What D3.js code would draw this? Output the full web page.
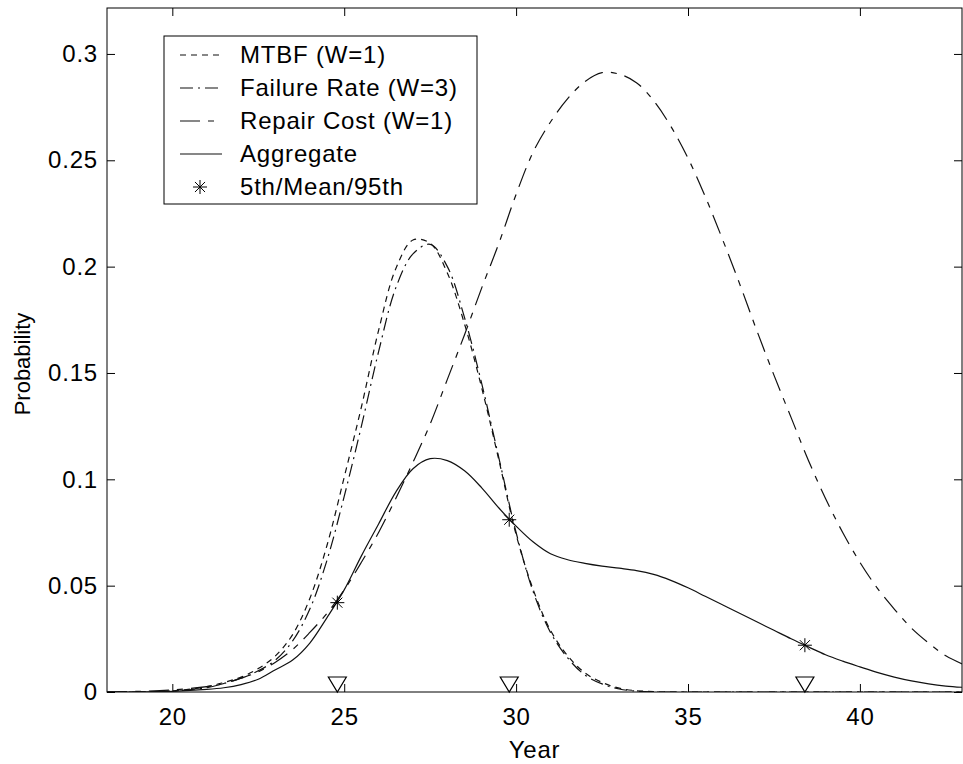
<!DOCTYPE html>
<html>
<head>
<meta charset="utf-8">
<script src="https://cdn.jsdelivr.net/npm/d3@7"></script>
<style>
  body { margin: 0; background: #fff; }
  svg { display: block; font-family: "Liberation Sans", Arial, sans-serif; }
  .axis text { font-size: 24px; fill: #000; letter-spacing: 0.8px; }
  .axis line, .axis path { stroke: #000; stroke-width: 1; }
  .curve { fill: none; stroke: #111; stroke-width: 1.2; }
</style>
</head>
<body>
<script>
// data
var years = [18.1, 19, 20, 21, 21.5, 22, 22.5, 23, 23.5, 24, 24.5, 25, 25.5, 26, 26.5, 27, 27.5, 28, 28.5, 29, 29.5, 30,
  30.5, 31, 31.5, 32, 32.5, 33, 33.5, 34, 34.5, 35, 35.5, 36, 36.5, 37, 37.5, 38, 38.5, 39, 39.5, 40, 40.5, 41, 41.5, 42, 42.5, 43];
var mtbf = [0, 0, 0.0005, 0.0025, 0.0045, 0.007, 0.011, 0.017, 0.027, 0.044, 0.069, 0.101, 0.134, 0.170, 0.199, 0.2125,
  0.211, 0.197, 0.173, 0.143, 0.109, 0.074, 0.048, 0.029, 0.017, 0.009, 0.0045, 0.0018, 0.0006, 0.0002,
  0, 0, 0, 0, 0, 0, 0, 0, 0, 0, 0, 0, 0, 0, 0, 0, 0, 0];
var failureRate = [0, 0, 0.0005, 0.002, 0.004, 0.0065, 0.010, 0.015, 0.024, 0.039, 0.062, 0.092, 0.125, 0.160, 0.190, 0.206,
  0.2105, 0.200, 0.176, 0.145, 0.110, 0.075, 0.047, 0.028, 0.016, 0.008, 0.0038, 0.0014, 0.0004, 0,
  0, 0, 0, 0, 0, 0, 0, 0, 0, 0, 0, 0, 0, 0, 0, 0, 0, 0];
var repairCost = [0, 0.0003, 0.001, 0.0025, 0.004, 0.0065, 0.0095, 0.014, 0.020, 0.028, 0.037, 0.048, 0.061, 0.075, 0.091,
  0.108, 0.126, 0.147, 0.168, 0.190, 0.211, 0.234, 0.254, 0.268, 0.279, 0.287, 0.2912, 0.2905, 0.2865, 0.278, 0.266,
  0.251, 0.233, 0.213, 0.192, 0.170, 0.149, 0.129, 0.109, 0.091, 0.075, 0.061, 0.049, 0.039, 0.030, 0.023, 0.017, 0.013];
var aggregate = [0, 0, 0.0003, 0.0012, 0.002, 0.0035, 0.006, 0.0105, 0.015, 0.023, 0.035, 0.048, 0.064, 0.079, 0.094, 0.105,
  0.1097, 0.1088, 0.104, 0.096, 0.0865, 0.078, 0.0705, 0.065, 0.0622, 0.0605, 0.0592, 0.0582, 0.0571, 0.0553, 0.0525,
  0.049, 0.045, 0.041, 0.037, 0.033, 0.029, 0.025, 0.0212, 0.0175, 0.0145, 0.0118, 0.0092, 0.007, 0.0052, 0.0038, 0.0028, 0.0022];
var pctYears = [24.8, 29.8, 38.4];
var pctValues = [0.042, 0.081, 0.022];
var xTicks = [20, 25, 30, 35, 40];
var yTicks = [0, 0.05, 0.1, 0.15, 0.2, 0.25, 0.3];
var yTickLabels = ["0", "0.05", "0.1", "0.15", "0.2", "0.25", "0.3"];
var legendLabels = ["MTBF (W=1)", "Failure Rate (W=3)", "Repair Cost (W=1)", "Aggregate", "5th/Mean/95th"];

var width = 963, height = 764;
var plotL = 107, plotR = 962, plotT = 8, plotB = 692;

var svg = d3.select("body").append("svg")
  .attr("width", width)
  .attr("height", height);

var x = d3.scaleLinear().domain([18.1, 42.97]).range([plotL, plotR]);
var y = d3.scaleLinear().domain([0, 0.3216]).range([plotB, plotT]);

svg.append("clipPath").attr("id", "plot-clip")
  .append("rect")
  .attr("x", plotL).attr("y", plotT)
  .attr("width", plotR - plotL).attr("height", plotB - plotT);

// axes, ticks point inward
svg.append("g").attr("class", "axis")
  .attr("transform", "translate(0," + plotB + ")")
  .call(d3.axisBottom(x).tickValues(xTicks).tickSize(-8).tickPadding(16).tickFormat(d3.format("d")));
svg.append("g").attr("class", "axis")
  .attr("transform", "translate(0," + plotT + ")")
  .call(d3.axisTop(x).tickValues(xTicks).tickSize(-8).tickFormat(""));
svg.append("g").attr("class", "axis")
  .attr("transform", "translate(" + plotL + ",0)")
  .call(d3.axisLeft(y).tickValues(yTicks).tickSize(-8).tickPadding(9)
    .tickFormat(function (d, i) { return yTickLabels[i]; }));
svg.append("g").attr("class", "axis")
  .attr("transform", "translate(" + plotR + ",0)")
  .call(d3.axisRight(y).tickValues(yTicks).tickSize(-8).tickFormat(""));
svg.selectAll(".axis .domain").remove();
svg.append("rect")
  .attr("x", plotL).attr("y", plotT)
  .attr("width", plotR - plotL).attr("height", plotB - plotT)
  .attr("fill", "none").attr("stroke", "#000").attr("stroke-width", 1);

// axis titles
svg.append("text")
  .attr("x", (plotL + plotR) / 2).attr("y", 758)
  .attr("text-anchor", "middle").attr("font-size", 24)
  .attr("letter-spacing", 0.8)
  .text("Year");
svg.append("text")
  .attr("transform", "translate(30,364) rotate(-90)")
  .attr("text-anchor", "middle").attr("font-size", 22)
  .text("Probability");

// curves
var series = [
  {values: mtbf, dash: "6,5"},
  {values: failureRate, dash: "13,5,2,5"},
  {values: repairCost, dash: "20,8,6,8"},
  {values: aggregate, dash: null}
];
var line = d3.line()
  .x(function (d) { return x(d[0]); })
  .y(function (d) { return y(d[1]); })
  .curve(d3.curveCatmullRom.alpha(0.5));

svg.append("g")
  .attr("clip-path", "url(#plot-clip)")
  .selectAll(".curve")
  .data(series)
  .enter().append("path")
  .attr("class", "curve")
  .attr("stroke-dasharray", function (d) { return d.dash; })
  .attr("d", function (d) { return line(d.values.map(function (v, i) { return [years[i], v]; })); });

// asterisk marker like matlab '*'
function star(cx, cy, r) {
  var k = r * 0.72;
  return "M" + (cx - r) + "," + cy + "H" + (cx + r) +
    "M" + cx + "," + (cy - r) + "V" + (cy + r) +
    "M" + (cx - k) + "," + (cy - k) + "L" + (cx + k) + "," + (cy + k) +
    "M" + (cx - k) + "," + (cy + k) + "L" + (cx + k) + "," + (cy - k);
}

svg.selectAll(".pct")
  .data(pctYears)
  .enter().append("path")
  .attr("class", "pct")
  .attr("d", function (d, i) { return star(x(d), y(pctValues[i]), 7); })
  .attr("stroke", "#000").attr("stroke-width", 1).attr("fill", "none");

// triangles on the x axis
svg.selectAll(".tri")
  .data(pctYears)
  .enter().append("path")
  .attr("class", "tri")
  .attr("d", function (d) {
    var cx = x(d), cy = y(0);
    return "M" + (cx - 9) + "," + (cy - 15) + "H" + (cx + 9) + "L" + cx + "," + cy + "Z";
  })
  .attr("fill", "#fff").attr("stroke", "#000").attr("stroke-width", 1.2);

// legend
var legend = svg.append("g");
legend.append("rect")
  .attr("x", 164).attr("y", 36).attr("width", 313).attr("height", 168)
  .attr("fill", "#fff").attr("stroke", "#000").attr("stroke-width", 1);

var rows = legend.selectAll(".row")
  .data(legendLabels)
  .enter().append("g")
  .attr("class", "row")
  .attr("transform", function (d, i) { return "translate(0," + (63 + i * 33) + ")"; });

rows.append("text")
  .attr("x", 240).attr("y", 0)
  .attr("font-size", 24)
  .attr("letter-spacing", 0.8)
  .text(function (d) { return d; });

rows.filter(function (d, i) { return i < 4; })
  .append("line")
  .attr("x1", 180).attr("x2", 222)
  .attr("y1", -8).attr("y2", -8)
  .attr("stroke", "#111").attr("stroke-width", 1.2)
  .attr("stroke-dasharray", function (d, i) { return series[i].dash; });

rows.filter(function (d, i) { return i === 4; })
  .append("path")
  .attr("d", star(200, -8, 7))
  .attr("stroke", "#000").attr("stroke-width", 1).attr("fill", "none");
</script>
</body>
</html>
